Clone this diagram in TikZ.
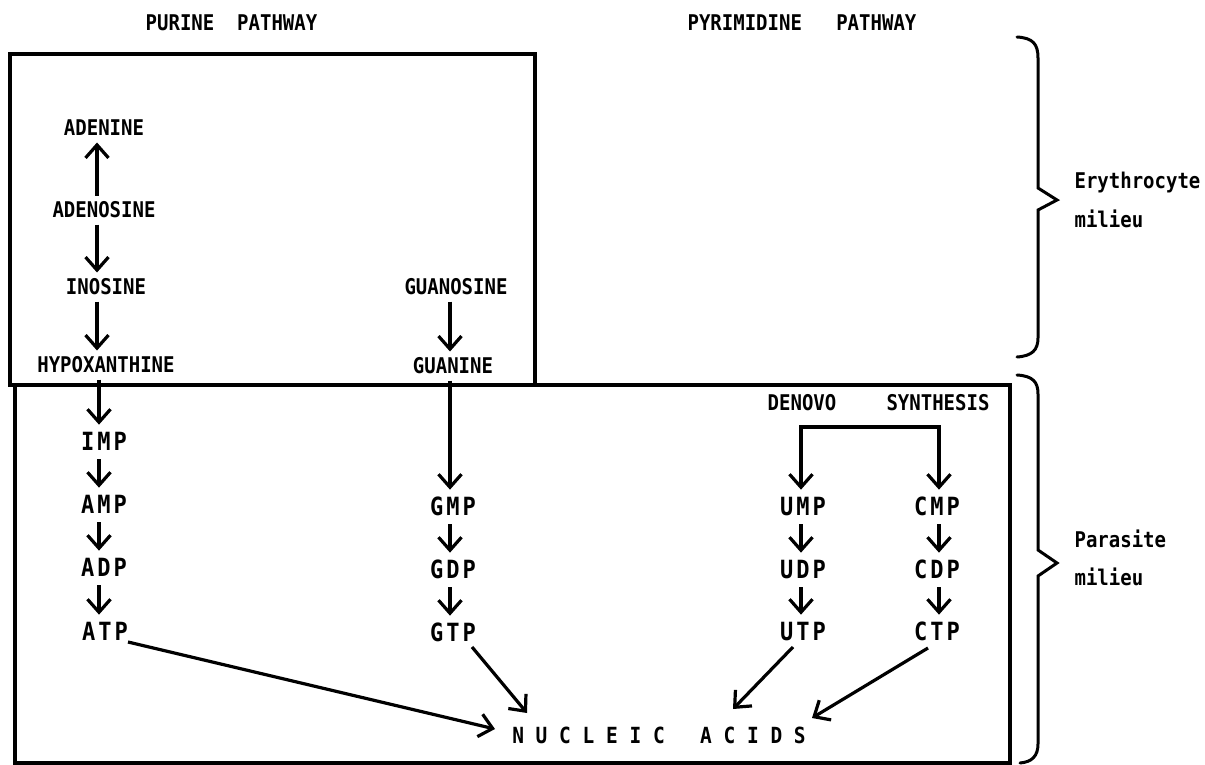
\documentclass[tikz,border=0pt]{standalone}
\usepackage{fontspec}
\usepackage{graphicx}
\setmonofont{DejaVu Sans Mono}
\usetikzlibrary{arrows.meta,calc}
\newcommand\tl[1]{\scalebox{1}[1.14]{#1}}
\begin{document}
\begin{tikzpicture}[x=1pt,y=-1pt,line width=3.2pt,
  lbl/.style={font=\ttfamily\bfseries\fontsize{19}{19}\selectfont, inner xsep=1pt, inner ysep=5pt, text height=15.8pt, text depth=0pt},
  code/.style={font=\ttfamily\bfseries\fontsize{22}{22}\selectfont, inner xsep=1pt, inner ysep=7pt, text height=17.5pt, text depth=0pt},
  side/.style={font=\ttfamily\bfseries\fontsize{19}{19}\selectfont, anchor=base west, inner sep=0pt},
  arr/.style={-{Straight Barb[length=13pt,width=23pt]}, line width=3.2pt},
  brace/.style={line width=3pt, line cap=round, line join=miter}]
\def\spc#1#2#3{\tl{#1\kern3pt#2\kern3pt#3}}
\useasboundingbox (0,0) rectangle (1205,765);
% titles
\node[lbl] (tpur) at (231.5,23) {\tl{PURINE~~PATHWAY}};
\node[lbl] (tpyr) at (802,23) {\tl{PYRIMIDINE~~~PATHWAY}};
% boxes
\draw (10,54) rectangle (535,385);
\draw (15,385) rectangle (1010,763);
% upper labels
\node[lbl] (adenine) at (104,128) {\tl{ADENINE}};
\node[lbl] (adenosine) at (104,210) {\tl{ADENOSINE}};
\node[lbl] (inosine) at (106,287) {\tl{INOSINE}};
\node[lbl] (hypox) at (106,365) {\tl{HYPOXANTHINE}};
\node[lbl] (guanosine) at (456,287) {\tl{GUANOSINE}};
\node[lbl] (guanine) at (453,366) {\tl{GUANINE}};
% lower labels
\node[code] (imp) at (104,442) {\spc IMP};
\node[code] (amp) at (104,505) {\spc AMP};
\node[code] (adp) at (104,568) {\spc ADP};
\node[code] (atp) at (105,632) {\spc ATP};
\node[code] (gmp) at (453,507) {\spc GMP};
\node[code] (gdp) at (453,570) {\spc GDP};
\node[code] (gtp) at (453,633) {\spc GTP};
\node[lbl] (denovo) at (802,403) {\tl{DENOVO}};
\node[lbl] (synth) at (938,403) {\tl{SYNTHESIS}};
\node[code] (ump) at (803,507) {\spc UMP};
\node[code] (cmp) at (937,507) {\spc CMP};
\node[code] (udp) at (803,570) {\spc UDP};
\node[code] (cdp) at (937,570) {\spc CDP};
\node[code] (utp) at (803,632) {\spc UTP};
\node[code] (ctp) at (937,632) {\spc CTP};
\node[font=\ttfamily\bfseries\fontsize{19.5}{19.5}\selectfont, inner sep=0pt, text height=16pt, text depth=0pt] (na) at (659,735) {\tl{N~U~C~L~E~I~C~~~A~C~I~D~S}};
% side labels
\node[side] (ery) at (1073,188) {\tl{Erythrocyte}};
\node[side] (mil1) at (1073,227) {\tl{milieu}};
\node[side] (par) at (1073,547) {\tl{Parasite}};
\node[side] (mil2) at (1073,585) {\tl{milieu}};
% columns
\coordinate (cA) at (97,0);
\coordinate (cB) at (99,0);
\coordinate (cG) at (450,0);
\coordinate (cU) at (801,0);
\coordinate (cC) at (939,0);
% purine arrows
\draw[arr] (adenosine.north -| cA) -- (adenine.south -| cA);
\draw[arr] (adenosine.south -| cA) -- (inosine.north -| cA);
\draw[arr] (inosine.south -| cA) -- (hypox.north -| cA);
\draw[arr] (hypox.south -| cB) -- (imp.north -| cB);
\draw[arr] (imp.south -| cB) -- (amp.north -| cB);
\draw[arr] (amp.south -| cB) -- (adp.north -| cB);
\draw[arr] (adp.south -| cB) -- (atp.north -| cB);
\draw[arr] (guanosine.south -| cG) -- (guanine.north -| cG);
\draw[arr] (guanine.south -| cG) -- (gmp.north -| cG);
\draw[arr] (gmp.south -| cG) -- (gdp.north -| cG);
\draw[arr] (gdp.south -| cG) -- (gtp.north -| cG);
% pyrimidine arrows
\coordinate (jn) at (870,427);
\draw[arr] (jn) -| (ump.north -| cU);
\draw[arr] (jn) -| (cmp.north -| cC);
\draw[arr] (ump.south -| cU) -- (udp.north -| cU);
\draw[arr] (udp.south -| cU) -- (utp.north -| cU);
\draw[arr] (cmp.south -| cC) -- (cdp.north -| cC);
\draw[arr] (cdp.south -| cC) -- (ctp.north -| cC);
% to nucleic acids
\draw[arr] ([shift={(23,10)}]atp.center) -- ([shift={(-164,-6)}]na.center);
\draw[arr] ([shift={(19,14)}]gtp.center) -- ([shift={(-132,-22)}]na.center);
\draw[arr] ([shift={(-10,15)}]utp.center) -- ([shift={(74,-26)}]na.center);
\draw[arr] ([shift={(-9,16)}]ctp.center) -- ([shift={(153,-17)}]na.center);
% braces
\draw[brace] (1017,37) .. controls (1033,38) and (1038,44) .. (1038,58) -- (1038,188) -- (1057,200) -- (1038,210) -- (1038,338) .. controls (1038,350) and (1032,356) .. (1017,357);
\draw[brace] (1017,375) .. controls (1033,376) and (1038,382) .. (1038,394) -- (1038,550) -- (1057,563) -- (1038,576) -- (1038,744) .. controls (1038,756) and (1032,762) .. (1020,763);
\end{tikzpicture}
\end{document}
